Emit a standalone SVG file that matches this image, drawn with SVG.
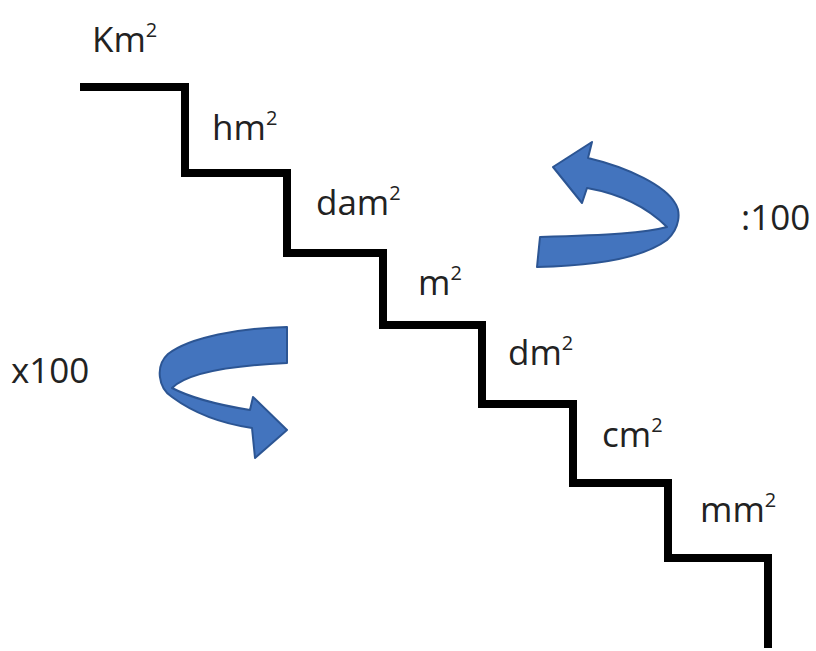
<svg xmlns="http://www.w3.org/2000/svg" width="816" height="651" viewBox="0 0 816 651">
<style>
.lbl{font-family:"Open Sans","Liberation Sans",sans-serif;font-size:35px;fill:#222}
.sup{font-size:20px}
.arrow{fill:#4374be;stroke:#2c5593;stroke-width:2;stroke-linejoin:round}
.stair{fill:none;stroke:#000;stroke-width:8;stroke-linejoin:miter}
</style>
<rect width="816" height="651" fill="#fff"/>
<g id="connectors">
<path id="stairs" class="stair" d="M80,87 H185 V173 H287 V253 H383 V325 H482 V404 H573 V483 H668 V558 H768 V648"/>
</g>
<g id="arrow-divide">
<path class="arrow" d="M540,237 L537,267 C585,266 640,260 667,240 C680,228 681,212 675,203 C665,186 630,168 588,158 L592,142 L553,167 L582,203 L587,188 C615,193 645,205 667,227 C645,233 610,235 540,237 Z"/>
</g>
<g id="arrow-multiply">
<path class="arrow" d="M287,327 C240,328 190,337 168,354 C155,366 158,388 172,397 C195,414 225,424 252,428 L255,458 L287,430 L253,397 L250,410 C225,406 195,400 172,388 C185,375 220,366 287,363 Z"/>
</g>
<g id="km"><text class="lbl" x="92" y="52">Km<tspan class="sup" dy="-15">2</tspan></text></g>
<g id="hm"><text class="lbl" x="212" y="140">hm<tspan class="sup" dy="-15">2</tspan></text></g>
<g id="dam"><text class="lbl" x="316" y="215">dam<tspan class="sup" dy="-15">2</tspan></text></g>
<g id="m"><text class="lbl" x="418" y="295">m<tspan class="sup" dy="-15">2</tspan></text></g>
<g id="dm"><text class="lbl" x="508" y="365">dm<tspan class="sup" dy="-15">2</tspan></text></g>
<g id="cm"><text class="lbl" x="602" y="447">cm<tspan class="sup" dy="-15">2</tspan></text></g>
<g id="mm"><text class="lbl" x="700" y="522">mm<tspan class="sup" dy="-15">2</tspan></text></g>
<g id="x100"><text class="lbl" x="11" y="383">x100</text></g>
<g id="div100"><text class="lbl" x="741" y="230">:100</text></g>
</svg>
